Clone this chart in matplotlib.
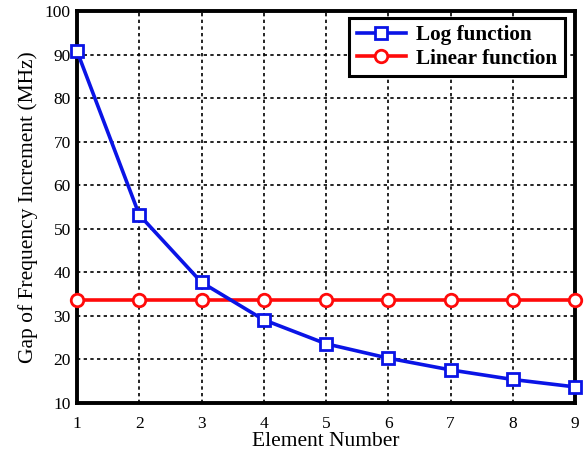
import matplotlib
matplotlib.use('Agg')
import matplotlib.pyplot as plt

plt.rcParams['font.family'] = ['Liberation Serif', 'DejaVu Serif']

element = [1, 2, 3, 4, 5, 6, 7, 8, 9]
log_gap = [90.8, 53.2, 37.7, 29.1, 23.6, 20.3, 17.6, 15.4, 13.7]
linear_gap = [33.6, 33.6, 33.6, 33.6, 33.6, 33.6, 33.6, 33.6, 33.6]

fig = plt.figure(figsize=(5.85, 4.54), dpi=100)
ax = fig.add_axes([0.1316, 0.1123, 0.8514, 0.8635])

ax.plot(element, log_gap, color='#0a14e6', lw=2.6, marker='s', ms=8.5,
        mfc='white', mec='#0a14e6', mew=2, label='Log function', clip_on=False, zorder=4)
ax.plot(element, linear_gap, color='#ff0a0a', lw=2.6, marker='o', ms=9,
        mfc='white', mec='#ff0a0a', mew=2, label='Linear function', clip_on=False, zorder=3)

ax.set_xlim(1, 9)
ax.set_ylim(10, 100)
ax.set_xticks(element)
ax.set_yticks(range(10, 101, 10))
ax.grid(True, color='black', linestyle=(0, (2, 2)), lw=1.2)
ax.tick_params(direction='in', length=0, labelsize=12.5)
ax.tick_params(axis='x', pad=9)
ax.tick_params(axis='y', pad=4.5)
for s in ax.spines.values():
    s.set_linewidth(2.8)

ax.set_xlabel('Element Number', fontsize=15.5, labelpad=0)
ax.set_ylabel('Gap of Frequency Increment (MHz)', fontsize=15.5, labelpad=5)

leg = ax.legend(loc='upper right', bbox_to_anchor=(0.988, 0.993), fancybox=False,
                edgecolor='black', framealpha=1, prop={'weight': 'bold', 'size': 15.3},
                handlelength=2.3, borderpad=0.35, labelspacing=0.15, handletextpad=0.5,
                borderaxespad=0.2)
leg.get_frame().set_linewidth(2.2)

fig.savefig('out.png', dpi=100)
